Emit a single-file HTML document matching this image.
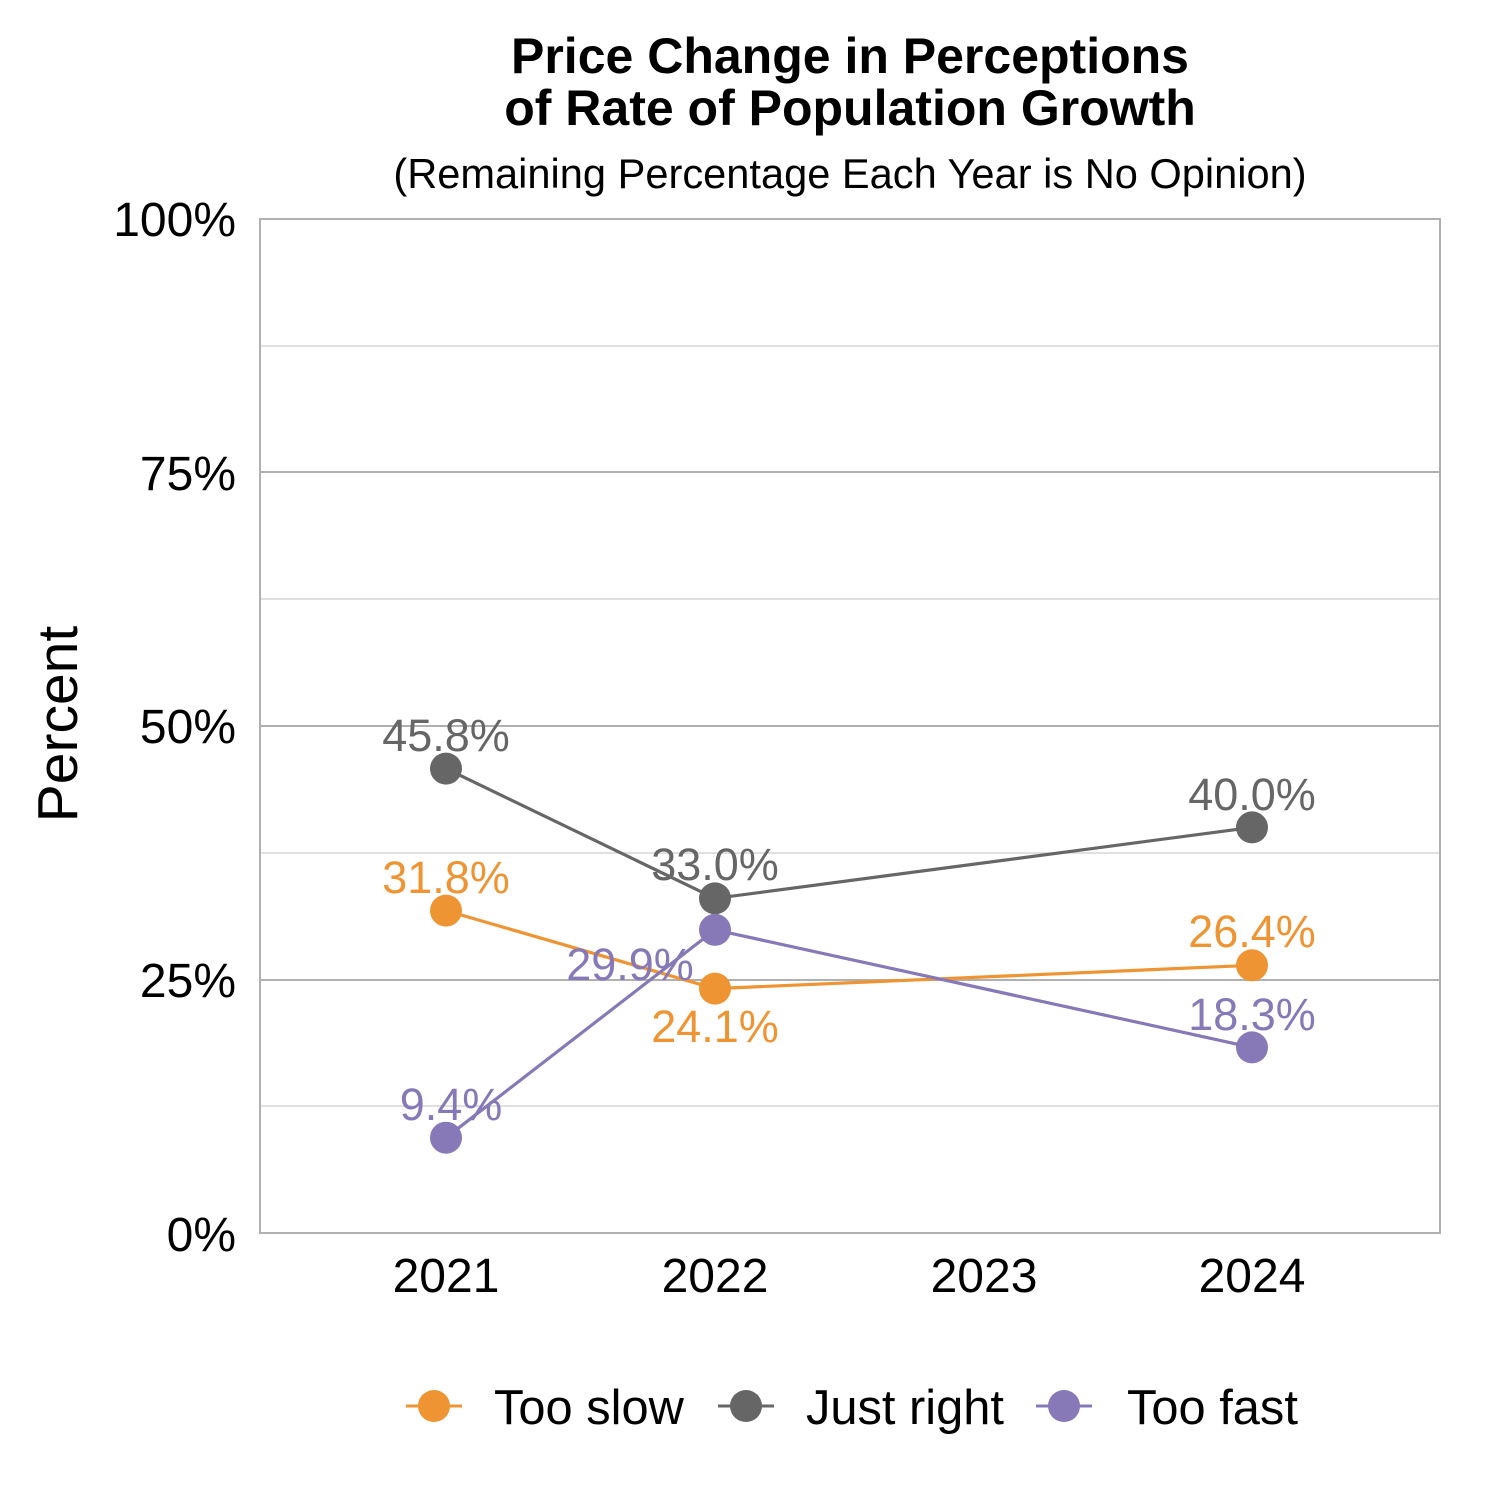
<!DOCTYPE html>
<html><head><meta charset="utf-8"><style>html,body{margin:0;padding:0;background:#fff}svg{display:block}</style></head>
<body>
<svg width="1500" height="1500" viewBox="0 0 1500 1500" xmlns="http://www.w3.org/2000/svg" font-family="'Liberation Sans', Arial, sans-serif">
<rect width="1500" height="1500" fill="#fff"/>
<text x="850" y="73" text-anchor="middle" font-size="50" font-weight="bold" fill="#000">Price Change in Perceptions</text>
<text x="850" y="125" text-anchor="middle" font-size="50" font-weight="bold" fill="#000">of Rate of Population Growth</text>
<text x="850" y="188" text-anchor="middle" font-size="41.6" fill="#000">(Remaining Percentage Each Year is No Opinion)</text>
<g stroke="#d6d6d6" stroke-width="1.5">
<line x1="260" y1="1106" x2="1440" y2="1106"/>
<line x1="260" y1="853" x2="1440" y2="853"/>
<line x1="260" y1="599" x2="1440" y2="599"/>
<line x1="260" y1="346" x2="1440" y2="346"/>
</g>
<g stroke="#b0b0b0" stroke-width="2">
<line x1="260" y1="980" x2="1440" y2="980"/>
<line x1="260" y1="726" x2="1440" y2="726"/>
<line x1="260" y1="472" x2="1440" y2="472"/>
</g>
<rect x="260" y="219" width="1180" height="1014" fill="none" stroke="#b0b0b0" stroke-width="2"/>
<g font-size="48" fill="#000" text-anchor="end">
<text x="236" y="236">100%</text>
<text x="236" y="490">75%</text>
<text x="236" y="743">50%</text>
<text x="236" y="997">25%</text>
<text x="236" y="1251">0%</text>
</g>
<g font-size="48" fill="#000" text-anchor="middle">
<text x="446" y="1292">2021</text>
<text x="715" y="1292">2022</text>
<text x="984" y="1292">2023</text>
<text x="1252" y="1292">2024</text>
</g>
<text transform="translate(77,724) rotate(-90)" text-anchor="middle" font-size="57" fill="#000">Percent</text>
<!-- Too slow -->
<polyline points="446,910.6 715,988.6 1252,965.3" fill="none" stroke="#ef9433" stroke-width="3.2"/>
<g fill="#ef9433"><circle cx="446" cy="910.6" r="16"/><circle cx="715" cy="988.6" r="16"/><circle cx="1252" cy="965.3" r="16"/></g>
<!-- Just right -->
<polyline points="446,768.6 715,898.4 1252,827.4" fill="none" stroke="#666" stroke-width="3.2"/>
<g fill="#666"><circle cx="446" cy="768.6" r="16"/><circle cx="715" cy="898.4" r="16"/><circle cx="1252" cy="827.4" r="16"/></g>
<!-- Too fast -->
<polyline points="446,1137.7 715,929.8 1252,1047.4" fill="none" stroke="#8778b7" stroke-width="3.2"/>
<g fill="#8778b7"><circle cx="446" cy="1137.7" r="16"/><circle cx="715" cy="929.8" r="16"/><circle cx="1252" cy="1047.4" r="16"/></g>
<g font-size="45" text-anchor="middle">
<text x="446" y="893" fill="#ef9433">31.8%</text>
<text x="715" y="1042" fill="#ef9433">24.1%</text>
<text x="1252" y="947" fill="#ef9433">26.4%</text>
<text x="446" y="751" fill="#666">45.8%</text>
<text x="715" y="880" fill="#666">33.0%</text>
<text x="1252" y="810" fill="#666">40.0%</text>
<text x="451" y="1120" fill="#8778b7">9.4%</text>
<text x="630" y="980" fill="#8778b7">29.9%</text>
<text x="1252" y="1030" fill="#8778b7">18.3%</text>
</g>
<!-- Legend -->
<line x1="406" y1="1406" x2="462" y2="1406" stroke="#ef9433" stroke-width="3"/>
<circle cx="434" cy="1406" r="16" fill="#ef9433"/>
<text x="494" y="1424" font-size="48.8" fill="#000">Too slow</text>
<line x1="718" y1="1406" x2="774" y2="1406" stroke="#666" stroke-width="3"/>
<circle cx="746" cy="1406" r="16" fill="#666"/>
<text x="806" y="1424" font-size="48.8" fill="#000">Just right</text>
<line x1="1036" y1="1406" x2="1092" y2="1406" stroke="#8778b7" stroke-width="3"/>
<circle cx="1064" cy="1406" r="16" fill="#8778b7"/>
<text x="1127" y="1424" font-size="48.8" fill="#000">Too fast</text>
</svg>
</body></html>
